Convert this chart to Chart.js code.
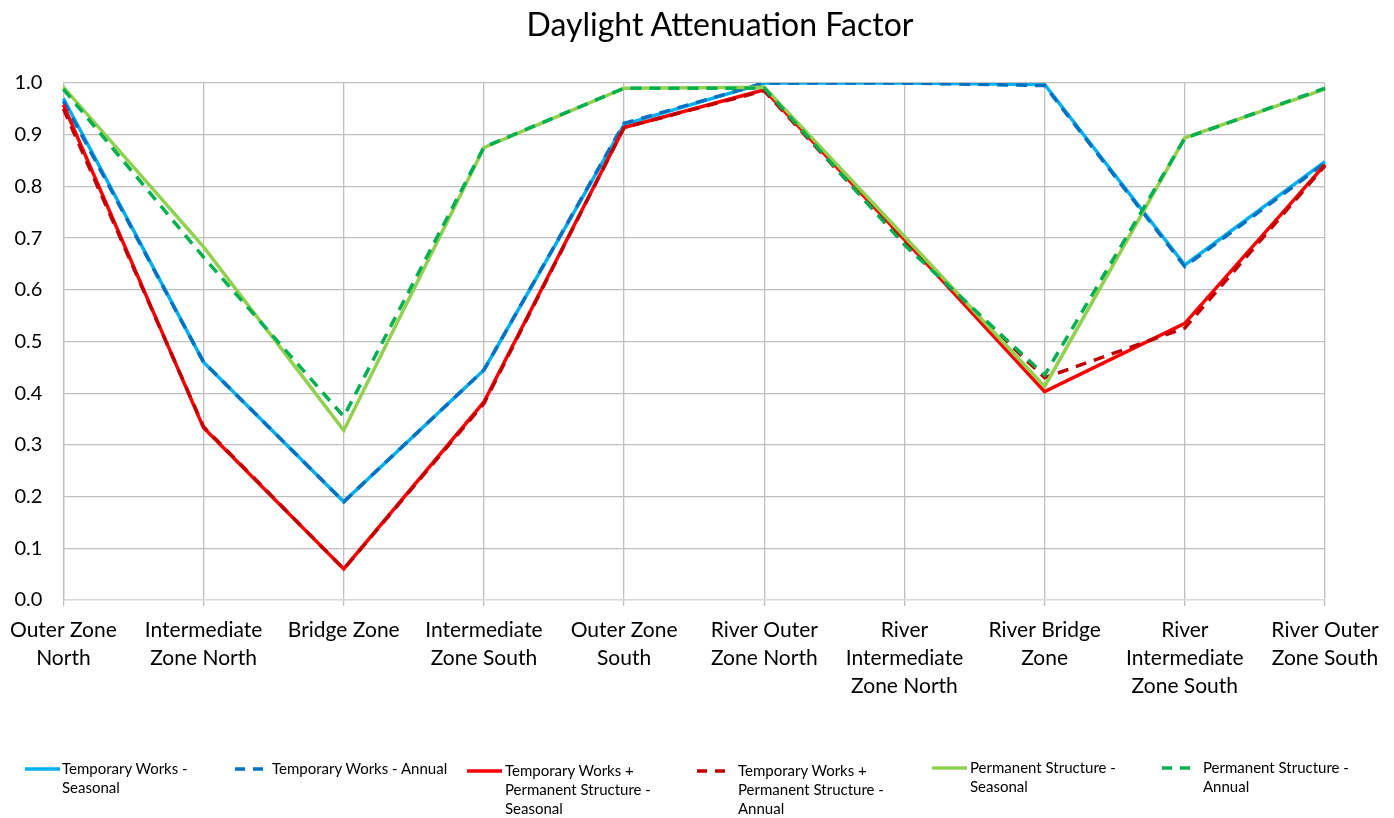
<!DOCTYPE html>
<html>
<head>
<meta charset="utf-8">
<script src="https://cdn.jsdelivr.net/npm/chart.js@4"></script>
<style>
  body { margin: 0; background: #fff; font-family: Lato, "Liberation Sans", sans-serif; }
  #wrap { position: relative; width: 1394px; height: 818px; }
  #title { position: absolute; left: 420px; width: 600px; top: 5px; text-align: center; font-size: 32px; line-height: 38px; color: #000; }
  #legend { position: absolute; left: 0; top: 0; width: 1394px; height: 818px; pointer-events: none; }
  .item { position: absolute; font-size: 15px; line-height: 19px; color: #000; }
</style>
</head>
<body>
<div id="wrap">
  <canvas id="chart" width="1394" height="818"></canvas>
  <div id="title">Daylight Attenuation Factor</div>
  <div id="legend"></div>
</div>
<script>
// categories along the bottom
const zones = [
  ["Outer Zone", "North"],
  ["Intermediate", "Zone North"],
  ["Bridge Zone"],
  ["Intermediate", "Zone South"],
  ["Outer Zone", "South"],
  ["River Outer", "Zone North"],
  ["River", "Intermediate", "Zone North"],
  ["River Bridge", "Zone"],
  ["River", "Intermediate", "Zone South"],
  ["River Outer", "Zone South"]
];

// series values
const tempSeasonal = [0.97, 0.46, 0.19, 0.445, 0.92, 1.0, 1.0, 0.997, 0.648, 0.848];
const tempAnnual   = [0.965, 0.46, 0.19, 0.445, 0.922, 1.0, 1.0, 0.995, 0.645, 0.845];
const combSeasonal = [0.958, 0.333, 0.06, 0.383, 0.914, 0.987, 0.697, 0.403, 0.535, 0.842];
const combAnnual   = [0.95, 0.335, 0.06, 0.38, 0.914, 0.985, 0.69, 0.43, 0.526, 0.84];
const permSeasonal = [0.992, 0.683, 0.328, 0.875, 0.99, 0.992, 0.703, 0.413, 0.894, 0.988];
const permAnnual   = [0.988, 0.663, 0.355, 0.876, 0.99, 0.99, 0.687, 0.435, 0.893, 0.99];

const seriesNames = [
  ["Temporary Works -", "Seasonal"],
  ["Temporary Works - Annual"],
  ["Temporary Works +", "Permanent Structure -", "Seasonal"],
  ["Temporary Works +", "Permanent Structure -", "Annual"],
  ["Permanent Structure -", "Seasonal"],
  ["Permanent Structure -", "Annual"]
];
const seriesData = [tempSeasonal, tempAnnual, combSeasonal, combAnnual, permSeasonal, permAnnual];
const seriesColors = ["#00b0f0", "#0070c0", "#ff0000", "#c00000", "#92d050", "#00b050"];
const seriesDashed = [false, true, false, true, false, true];

const yTicks = [0, 0.1, 0.2, 0.3, 0.4, 0.5, 0.6, 0.7, 0.8, 0.9, 1.0];

const fontFam = "Lato, 'Liberation Sans', sans-serif";

const datasets = seriesData.map((d, i) => ({
  label: seriesNames[i].join(" "),
  data: d,
  borderColor: seriesColors[i],
  backgroundColor: seriesColors[i],
  borderWidth: 3.5,
  borderDash: seriesDashed[i] ? [11, 8] : [],
  pointRadius: 0,
  tension: 0,
  fill: false,
  order: seriesData.length - i  // later series drawn on top, like the original
}));

new Chart(document.getElementById("chart"), {
  type: "line",
  data: { labels: zones, datasets },
  options: {
    responsive: false,
    animation: false,
    layout: { padding: { left: 0, right: 69, top: 83, bottom: 0 } },
    plugins: {
      legend: { display: false },
      tooltip: { enabled: false },
      title: { display: false }
    },
    scales: {
      x: {
        offset: false,
        grid: { color: "#bfbfbf", lineWidth: 1.3, tickLength: 6, drawTicks: true },
        border: { color: "#d9d9d9", width: 1.3 },
        ticks: {
          color: "#000",
          font: { family: fontFam, size: 21, lineHeight: 1.33 },
          maxRotation: 0,
          autoSkip: false,
          padding: 10
        },
        afterFit: s => { s.height = 218; }
      },
      y: {
        min: 0,
        max: 1,
        afterBuildTicks: s => { s.ticks = yTicks.map(v => ({ value: v })); },
        grid: { color: "#bfbfbf", lineWidth: 1.3, drawTicks: false },
        border: { color: "#bfbfbf", width: 1.3 },
        ticks: {
          color: "#000",
          font: { family: fontFam, size: 20 },
          padding: 21,
          callback: v => Number(v).toFixed(1)
        },
        afterFit: s => { s.width = 63; }
      }
    }
  }
});

// legend below the chart, laid out like the original
const legendPos = [
  { sx: 25, sw: 35, tx: 62, ty: 759 },
  { sx: 235, sw: 32, tx: 272, ty: 759 },
  { sx: 467, sw: 35, tx: 505, ty: 761 },
  { sx: 697, sw: 32, tx: 738, ty: 761 },
  { sx: 932, sw: 35, tx: 970, ty: 758 },
  { sx: 1162, sw: 33, tx: 1203, ty: 758 }
];
const legend = document.getElementById("legend");
seriesNames.forEach((name, i) => {
  const p = legendPos[i];
  const el = document.createElement("div");
  el.className = "item";
  el.style.left = p.tx + "px";
  el.style.top = p.ty + "px";
  el.innerHTML = name.join("<br>");
  legend.appendChild(el);
  const svg = document.createElementNS("http://www.w3.org/2000/svg", "svg");
  svg.setAttribute("width", p.sw);
  svg.setAttribute("height", 6);
  svg.style.position = "absolute";
  svg.style.left = p.sx + "px";
  svg.style.top = (p.ty + 7) + "px";
  const ln = document.createElementNS("http://www.w3.org/2000/svg", "line");
  ln.setAttribute("x1", 0);
  ln.setAttribute("x2", p.sw);
  ln.setAttribute("y1", 3);
  ln.setAttribute("y2", 3);
  ln.setAttribute("stroke", seriesColors[i]);
  ln.setAttribute("stroke-width", 3.5);
  if (seriesDashed[i]) ln.setAttribute("stroke-dasharray", "10 8");
  svg.appendChild(ln);
  legend.appendChild(svg);
});
</script>
</body>
</html>
